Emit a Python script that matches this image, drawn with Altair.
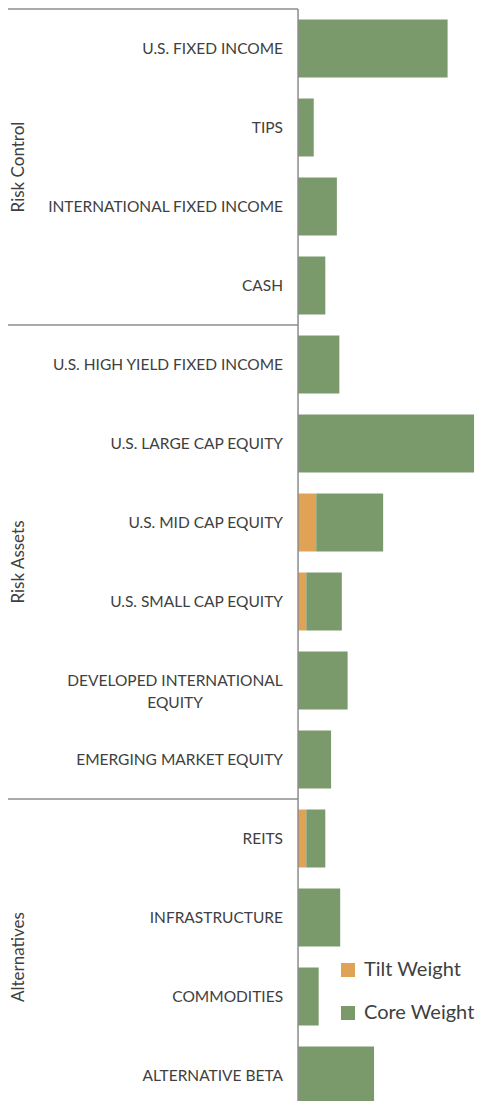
import altair as alt
import pandas as pd

categories = [
    "U.S. FIXED INCOME", "TIPS", "INTERNATIONAL FIXED INCOME", "CASH",
    "U.S. HIGH YIELD FIXED INCOME", "U.S. LARGE CAP EQUITY", "U.S. MID CAP EQUITY",
    "U.S. SMALL CAP EQUITY", "DEVELOPED INTERNATIONAL\nEQUITY", "EMERGING MARKET EQUITY",
    "REITS", "INFRASTRUCTURE", "COMMODITIES", "ALTERNATIVE BETA",
]
groups = [
    "Risk Control", "Risk Control", "Risk Control", "Risk Control",
    "Risk Assets", "Risk Assets", "Risk Assets", "Risk Assets", "Risk Assets", "Risk Assets",
    "Alternatives", "Alternatives", "Alternatives", "Alternatives",
]
core_weight = [18.1, 1.9, 4.7, 3.3, 5.0, 21.3, 8.1, 4.3, 6.0, 4.0, 2.3, 5.1, 2.5, 9.2]
tilt_weight = [0.0, 0.0, 0.0, 0.0, 0.0, 0.0, 2.2, 1.0, 0.0, 0.0, 1.0, 0.0, 0.0, 0.0]
series = ["Tilt Weight", "Core Weight"]
colors = ["#E0A356", "#7A9A6C"]

FONT = "Lato, Open Sans, Liberation Sans"

rows = []
for c, g, t, w in zip(categories, groups, tilt_weight, core_weight):
    rows.append({"cat": c, "group": g, "series": "Tilt Weight", "value": t})
    rows.append({"cat": c, "group": g, "series": "Core Weight", "value": w})
bars_df = pd.DataFrame(rows)
cats_df = pd.DataFrame({"cat": categories, "group": groups})

group_names = []
for g in groups:
    if g not in group_names:
        group_names.append(g)
starts, mids = [], []
for g in group_names:
    idx = [i for i, x in enumerate(groups) if x == g]
    starts.append(categories[idx[0]])
    mids.append(categories[idx[0] + len(idx) // 2])
grp_df = pd.DataFrame({"group": group_names, "start": starts, "mid": mids})

XMIN, XMAX = -35.1, 21.9
xscale = alt.Scale(domain=[XMIN, XMAX], nice=False, zero=False)
yscale = alt.Scale(domain=categories, paddingInner=0, paddingOuter=0)
noaxis = None

bars = alt.Chart(bars_df).transform_calculate(
    ord="indexof(['Tilt Weight','Core Weight'], datum.series)"
).mark_bar(height=alt.RelativeBandSize(band=0.734)).encode(
    y=alt.Y("cat:N", scale=yscale, axis=noaxis, sort=categories),
    x=alt.X("value:Q", scale=xscale, axis=noaxis, stack="zero"),
    color=alt.Color(
        "series:N",
        scale=alt.Scale(domain=series, range=colors),
        legend=alt.Legend(
            title=None, orient="none", legendX=330, legendY=951,
            symbolType="square", symbolSize=196, symbolStrokeWidth=0,
            labelFont=FONT, labelFontSize=20, labelColor="#404040",
            labelOffset=6, rowPadding=23,
        ),
    ),
    order=alt.Order("ord:Q"),
)

labels_single = alt.Chart(cats_df).transform_filter(
    "!test(/\\n/, datum.cat)"
).mark_text(align="right", baseline="middle", dx=-15, font=FONT, fontSize=15.5, color="#404040").encode(
    y=alt.Y("cat:N", scale=yscale, axis=noaxis, sort=categories),
    x=alt.datum(0, scale=xscale),
    text="cat:N",
)

labels_multi = alt.Chart(cats_df).transform_filter(
    "test(/\\n/, datum.cat)"
).mark_text(align="center", baseline="middle", dx=-123, font=FONT, fontSize=15.5,
            color="#404040", lineBreak="\n", lineHeight=22).encode(
    y=alt.Y("cat:N", scale=yscale, axis=noaxis, sort=categories),
    x=alt.datum(0, scale=xscale),
    text="cat:N",
)

separators = alt.Chart(grp_df).mark_rule(color="#8C8C8C", strokeWidth=1.5).encode(
    y=alt.Y("start:N", scale=yscale, axis=noaxis, sort=categories, bandPosition=0),
    x=alt.datum(XMIN, scale=xscale),
    x2=alt.X2(datum=0),
)

group_labels = alt.Chart(grp_df).mark_text(
    angle=270, align="center", baseline="middle", font=FONT, fontSize=17, color="#404040"
).encode(
    y=alt.Y("mid:N", scale=yscale, axis=noaxis, sort=categories, bandPosition=0),
    x=alt.value(11),
    text="group:N",
)

vaxis = alt.Chart(pd.DataFrame({"a": [0]})).mark_rule(color="#8C8C8C", strokeWidth=1.5).encode(
    x=alt.datum(0, scale=xscale),
)

chart = alt.layer(bars, separators, vaxis, labels_single, labels_multi, group_labels).properties(
    width=471, height=1106,
    padding={"left": 0, "top": 1, "right": 0, "bottom": -14},
    autosize=alt.AutoSizeParams(type="none"),
).configure_view(stroke=None)

chart.save("out.html", embed_options={"renderer": "svg", "actions": False})
